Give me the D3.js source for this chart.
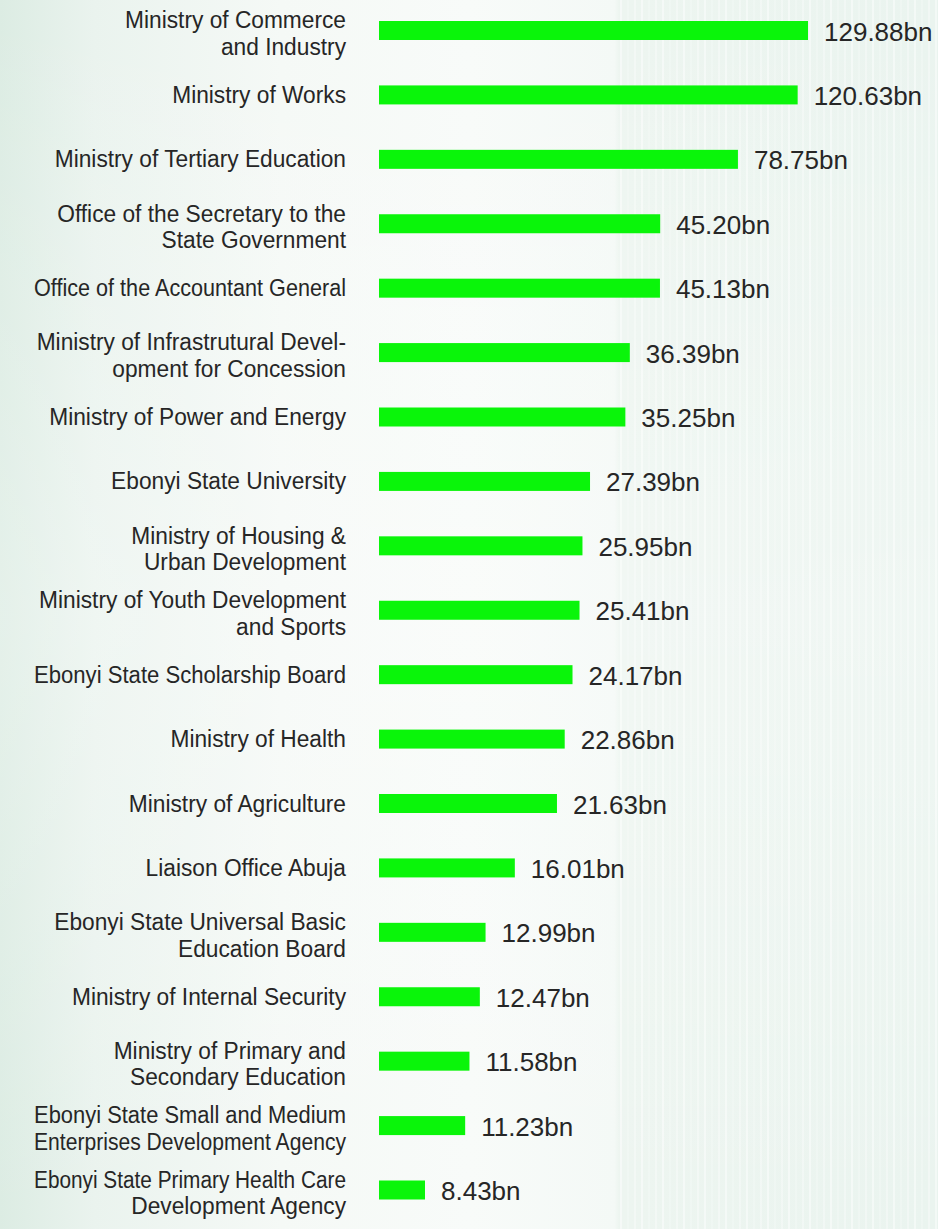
<!DOCTYPE html>
<html>
<head>
<meta charset="utf-8">
<script src="https://cdn.jsdelivr.net/npm/d3@7"></script>
<style>
  html, body { margin: 0; padding: 0; background: #f6faf7; }
  svg { display: block; }
</style>
</head>
<body>
<svg id="chart" width="938" height="1229"></svg>
<script>
// ---- data ----
const categories = [
  "Ministry of Commerce|and Industry",
  "Ministry of Works",
  "Ministry of Tertiary Education",
  "Office of the Secretary to the|State Government",
  "Office of the Accountant General",
  "Ministry of Infrastrutural Devel-|opment for Concession",
  "Ministry of Power and Energy",
  "Ebonyi State University",
  "Ministry of Housing &|Urban Development",
  "Ministry of Youth Development|and Sports",
  "Ebonyi State Scholarship Board",
  "Ministry of Health",
  "Ministry of Agriculture",
  "Liaison Office Abuja",
  "Ebonyi State Universal Basic|Education Board",
  "Ministry of Internal Security",
  "Ministry of Primary and|Secondary Education",
  "Ebonyi State Small and Medium|Enterprises Development Agency",
  "Ebonyi State Primary Health Care|Development Agency"
];
const values = [129.88, 120.63, 78.75, 45.20, 45.13, 36.39, 35.25, 27.39, 25.95, 25.41,
                24.17, 22.86, 21.63, 16.01, 12.99, 12.47, 11.58, 11.23, 8.43];
const unitSuffix = "bn";

// ---- layout ----
const W = 938, H = 1229;
const barX = 379;
const barH = 19;
const labelRight = 346;
const labelScaleX = 0.98;
const labelMaxW = 312;
const svg = d3.select("#chart");

// ---- background ----
const defs = svg.append("defs");
const g1 = defs.append("linearGradient").attr("id", "bgH").attr("x1", 0).attr("x2", 1).attr("y1", 0).attr("y2", 0);
[[0, "#dcece3"], [0.1, "#eaf3ee"], [0.3, "#f5f9f6"], [0.5, "#f8fbf9"], [0.655, "#f4f9f6"], [0.66, "#edf5f0"], [1, "#eaf4ef"]]
  .forEach(([o, c]) => g1.append("stop").attr("offset", o).attr("stop-color", c));
svg.append("rect").attr("width", W).attr("height", H).attr("fill", "url(#bgH)");

const g2 = defs.append("linearGradient").attr("id", "bgV").attr("x1", 0).attr("x2", 0).attr("y1", 0).attr("y2", 1);
[[0, "#ffffff", 0.0], [0.5, "#ffffff", 0.25], [1, "#ffffff", 0.0]]
  .forEach(([o, c, op]) => g2.append("stop").attr("offset", o).attr("stop-color", c).attr("stop-opacity", op));
svg.append("rect").attr("width", W).attr("height", H).attr("fill", "url(#bgV)");

// soft streaks on the right panel
const streaks = d3.range(620, 938, 7);
svg.append("g").selectAll("rect").data(streaks).join("rect")
  .attr("x", d => d).attr("y", 0).attr("width", 2).attr("height", H)
  .attr("fill", "#ffffff")
  .attr("opacity", (d, i) => (i % 3 === 0 ? 0.45 : i % 3 === 1 ? 0.2 : 0.32));

// ---- scales ----
const y = d3.scalePoint()
  .domain(d3.range(categories.length))
  .range([30.5, 1190]);

const len = d3.scaleLog()
  .domain(d3.extent(values))
  .range([46, 429]);

// ---- bars ----
const rows = svg.append("g").selectAll("g.row")
  .data(categories.map((c, i) => ({ label: c.split("|"), value: values[i], i })))
  .join("g").attr("class", "row");

rows.append("rect")
  .attr("x", barX)
  .attr("y", d => y(d.i) - barH / 2)
  .attr("width", d => len(d.value))
  .attr("height", barH)
  .attr("fill", "#0af50a");

// ---- value labels ----
rows.append("text")
  .attr("x", d => barX + len(d.value) + 16)
  .attr("y", d => y(d.i) + 1)
  .attr("dominant-baseline", "central")
  .attr("font-family", "'Liberation Sans', Arial, sans-serif")
  .attr("font-size", 26)
  .attr("fill", "#262626")
  .text(d => d.value.toFixed(2) + unitSuffix);

// ---- category labels ----
const lineH = 26.5;
rows.each(function (d) {
  const n = d.label.length;
  const cy = y(d.i) + (n > 1 ? 3 : 0);
  const t = d3.select(this).append("text")
    .attr("transform", `translate(${labelRight},${cy}) scale(${labelScaleX},1)`)
    .attr("text-anchor", "end")
    .attr("font-family", "'Liberation Sans', Arial, sans-serif")
    .attr("font-size", 23.2)
    .attr("fill", "#262626");
  d.label.forEach((line, k) => {
    const ts = t.append("tspan")
      .attr("x", 0)
      .attr("y", (k - (n - 1) / 2) * lineH)
      .attr("dominant-baseline", "central")
      .text(line);
    const w = ts.node().getComputedTextLength() * labelScaleX;
    if (w > labelMaxW) {
      ts.attr("textLength", labelMaxW / labelScaleX).attr("lengthAdjust", "spacingAndGlyphs");
    }
  });
});
</script>
</body>
</html>
